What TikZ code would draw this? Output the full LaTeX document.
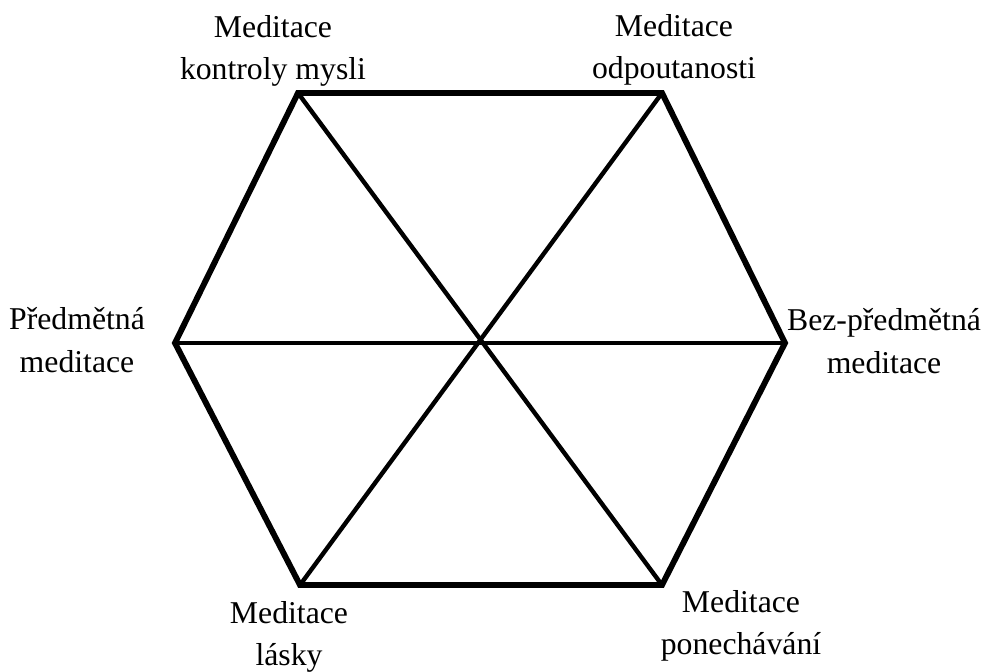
\documentclass[tikz,border=0pt]{standalone}
\usepackage{fontspec}
\setmainfont{Liberation Serif}
\usepackage{tikz}
\usepackage{xcolor}

\begin{document}
\begin{tikzpicture}[
    x=0.75pt, y=-0.75pt,
    outer/.style={line width=4.4pt, line join=miter},
    spoke/.style={line width=3.3pt},
    lbl/.style={align=center, inner sep=0pt, font=\fontsize{23.8}{31.8}\selectfont}
]
\useasboundingbox (0,0) rectangle (984,671);
% corners of the hexagon
\coordinate (tl) at (298,93);
\coordinate (tr) at (662,93);
\coordinate (r) at (785,343);
\coordinate (br) at (662,585);
\coordinate (bl) at (300,585);
\coordinate (l) at (175,343);
\coordinate (mid) at (481,343);
% labels
\node[lbl] (kontrola) at (273,51) {Meditace\\kontroly mysli};
\node[lbl] (odpoutanost) at (674,50) {Meditace\\odpoutanosti};
\node[lbl] (predmetna) at (77,340) {Předmětná\\meditace};
\node[lbl] (bezpredmetna) at (884,341) {Bez-předmětná\\meditace};
\node[lbl] (laska) at (289,637) {Meditace\\lásky};
\node[lbl] (ponechani) at (741,626) {Meditace\\ponechávání};
% spokes through the middle
\draw[spoke] (tl) -- (br);
\draw[spoke] (tr) -- (bl);
\draw[spoke] (l) -- (r);
% outline
\draw[outer] (tl) -- (tr) -- (r) -- (br) -- (bl) -- (l) -- cycle;
\end{tikzpicture}
\end{document}
